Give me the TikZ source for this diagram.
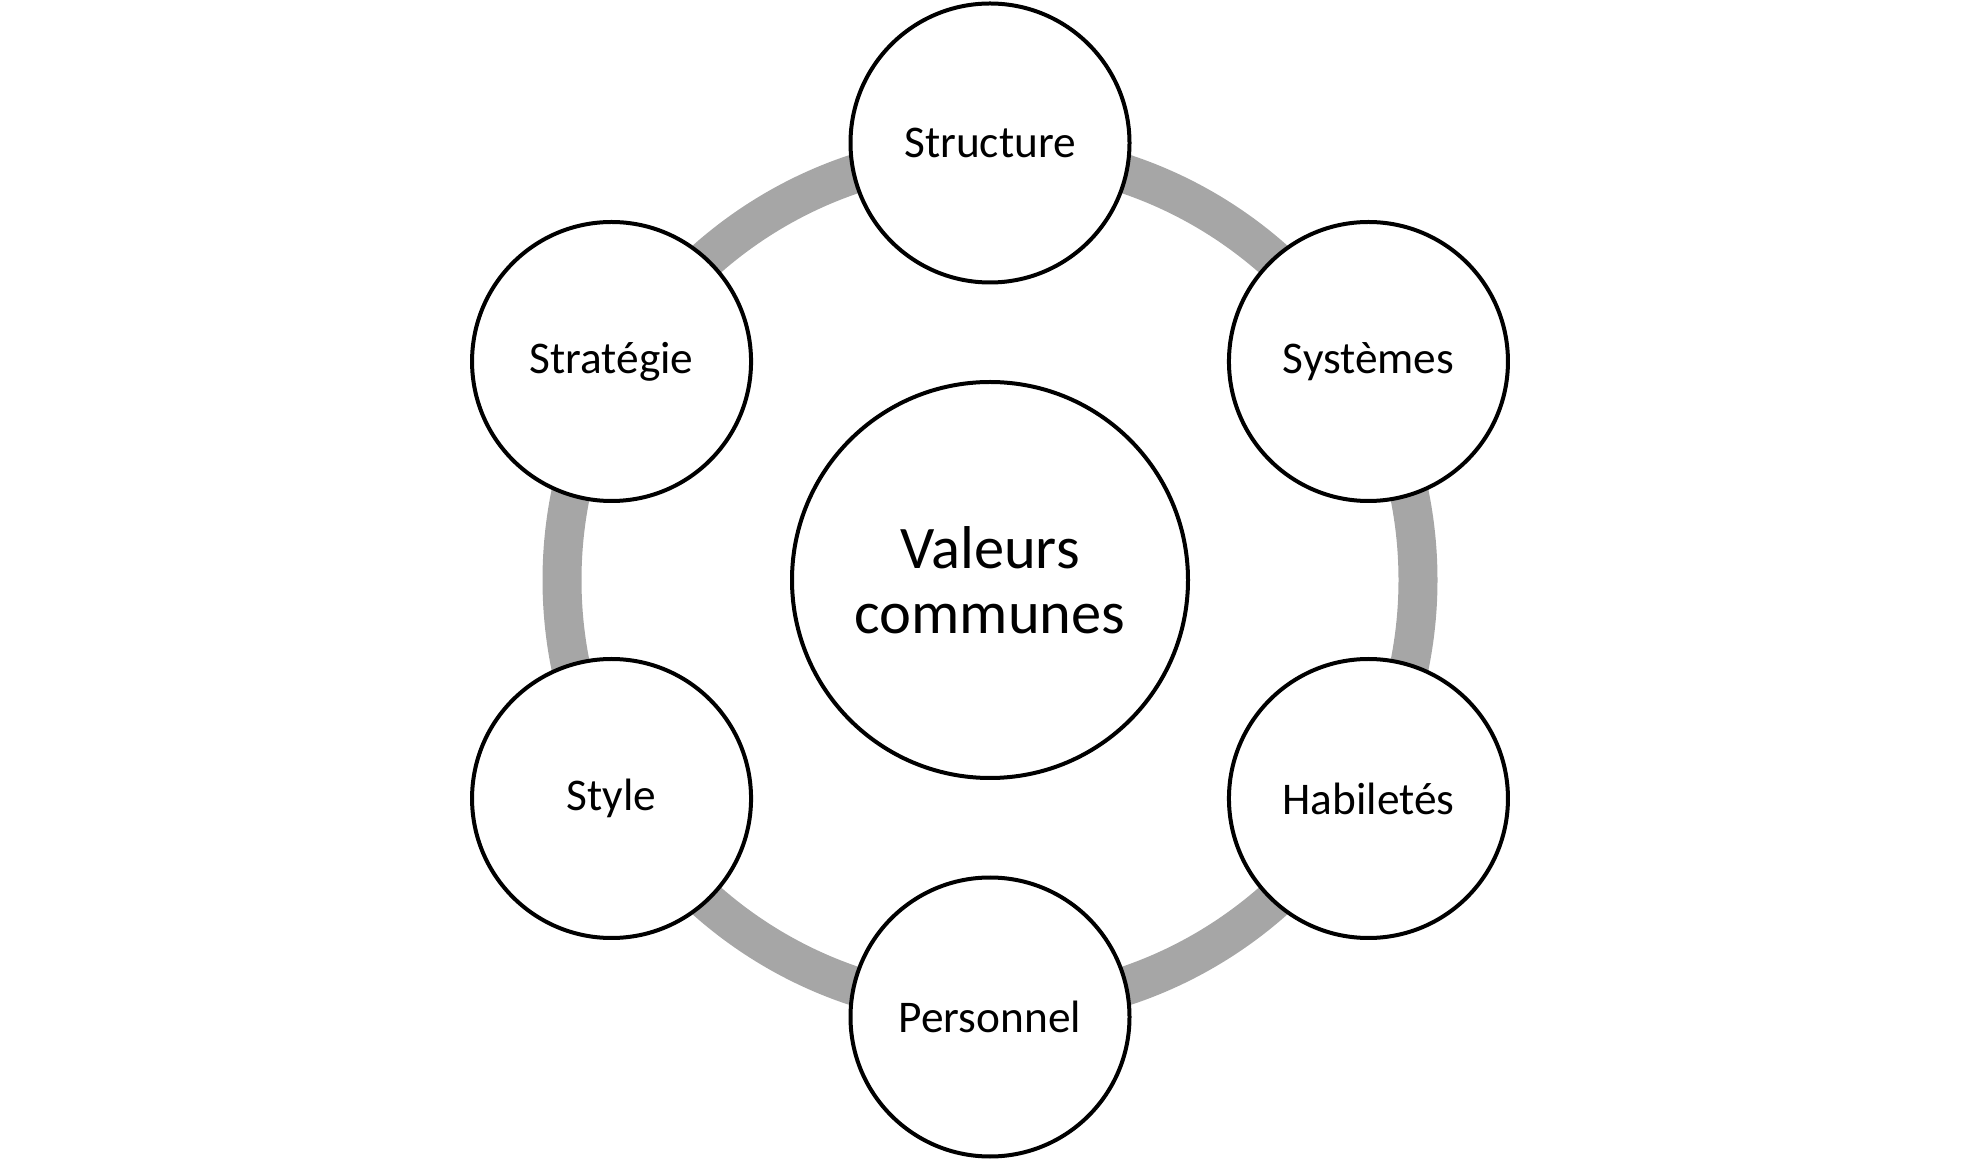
\documentclass[tikz,border=0pt]{standalone}
\usepackage{fontspec}
\setmainfont{Carlito}
\definecolor{ringgray}{RGB}{166,166,166}
\begin{document}
\begin{tikzpicture}[
  outer/.style={circle, draw=black, fill=white, line width=0.04cm, minimum size=2.79cm, inner sep=0pt, font=\fontsize{12.9}{15}\selectfont, align=center},
  inner/.style={circle, draw=black, fill=white, line width=0.04cm, minimum size=3.96cm, inner sep=0pt, font=\fontsize{17.2}{18.6}\selectfont, align=center}
]
\useasboundingbox (0,0) rectangle (19.8,11.6);
\coordinate (c) at (9.90,5.80);
\draw[ringgray, line width=0.39cm] (c) circle (4.28);
\node[inner] (val) at (c) {Valeurs\\communes};
\node[outer] (str) at ([shift={(90:4.37)}]c) {Structure};
\node[outer] (sys) at ([shift={(30:4.37)}]c) {Systèmes};
\node[outer] (hab) at ([shift={(-30:4.37)}]c) {Habiletés};
\node[outer] (per) at ([shift={(-90:4.37)}]c) {Personnel};
\node[outer] (sty) at ([shift={(-150:4.37)}]c) {Style};
\node[outer] (strat) at ([shift={(150:4.37)}]c) {Stratégie};
\end{tikzpicture}
\end{document}
